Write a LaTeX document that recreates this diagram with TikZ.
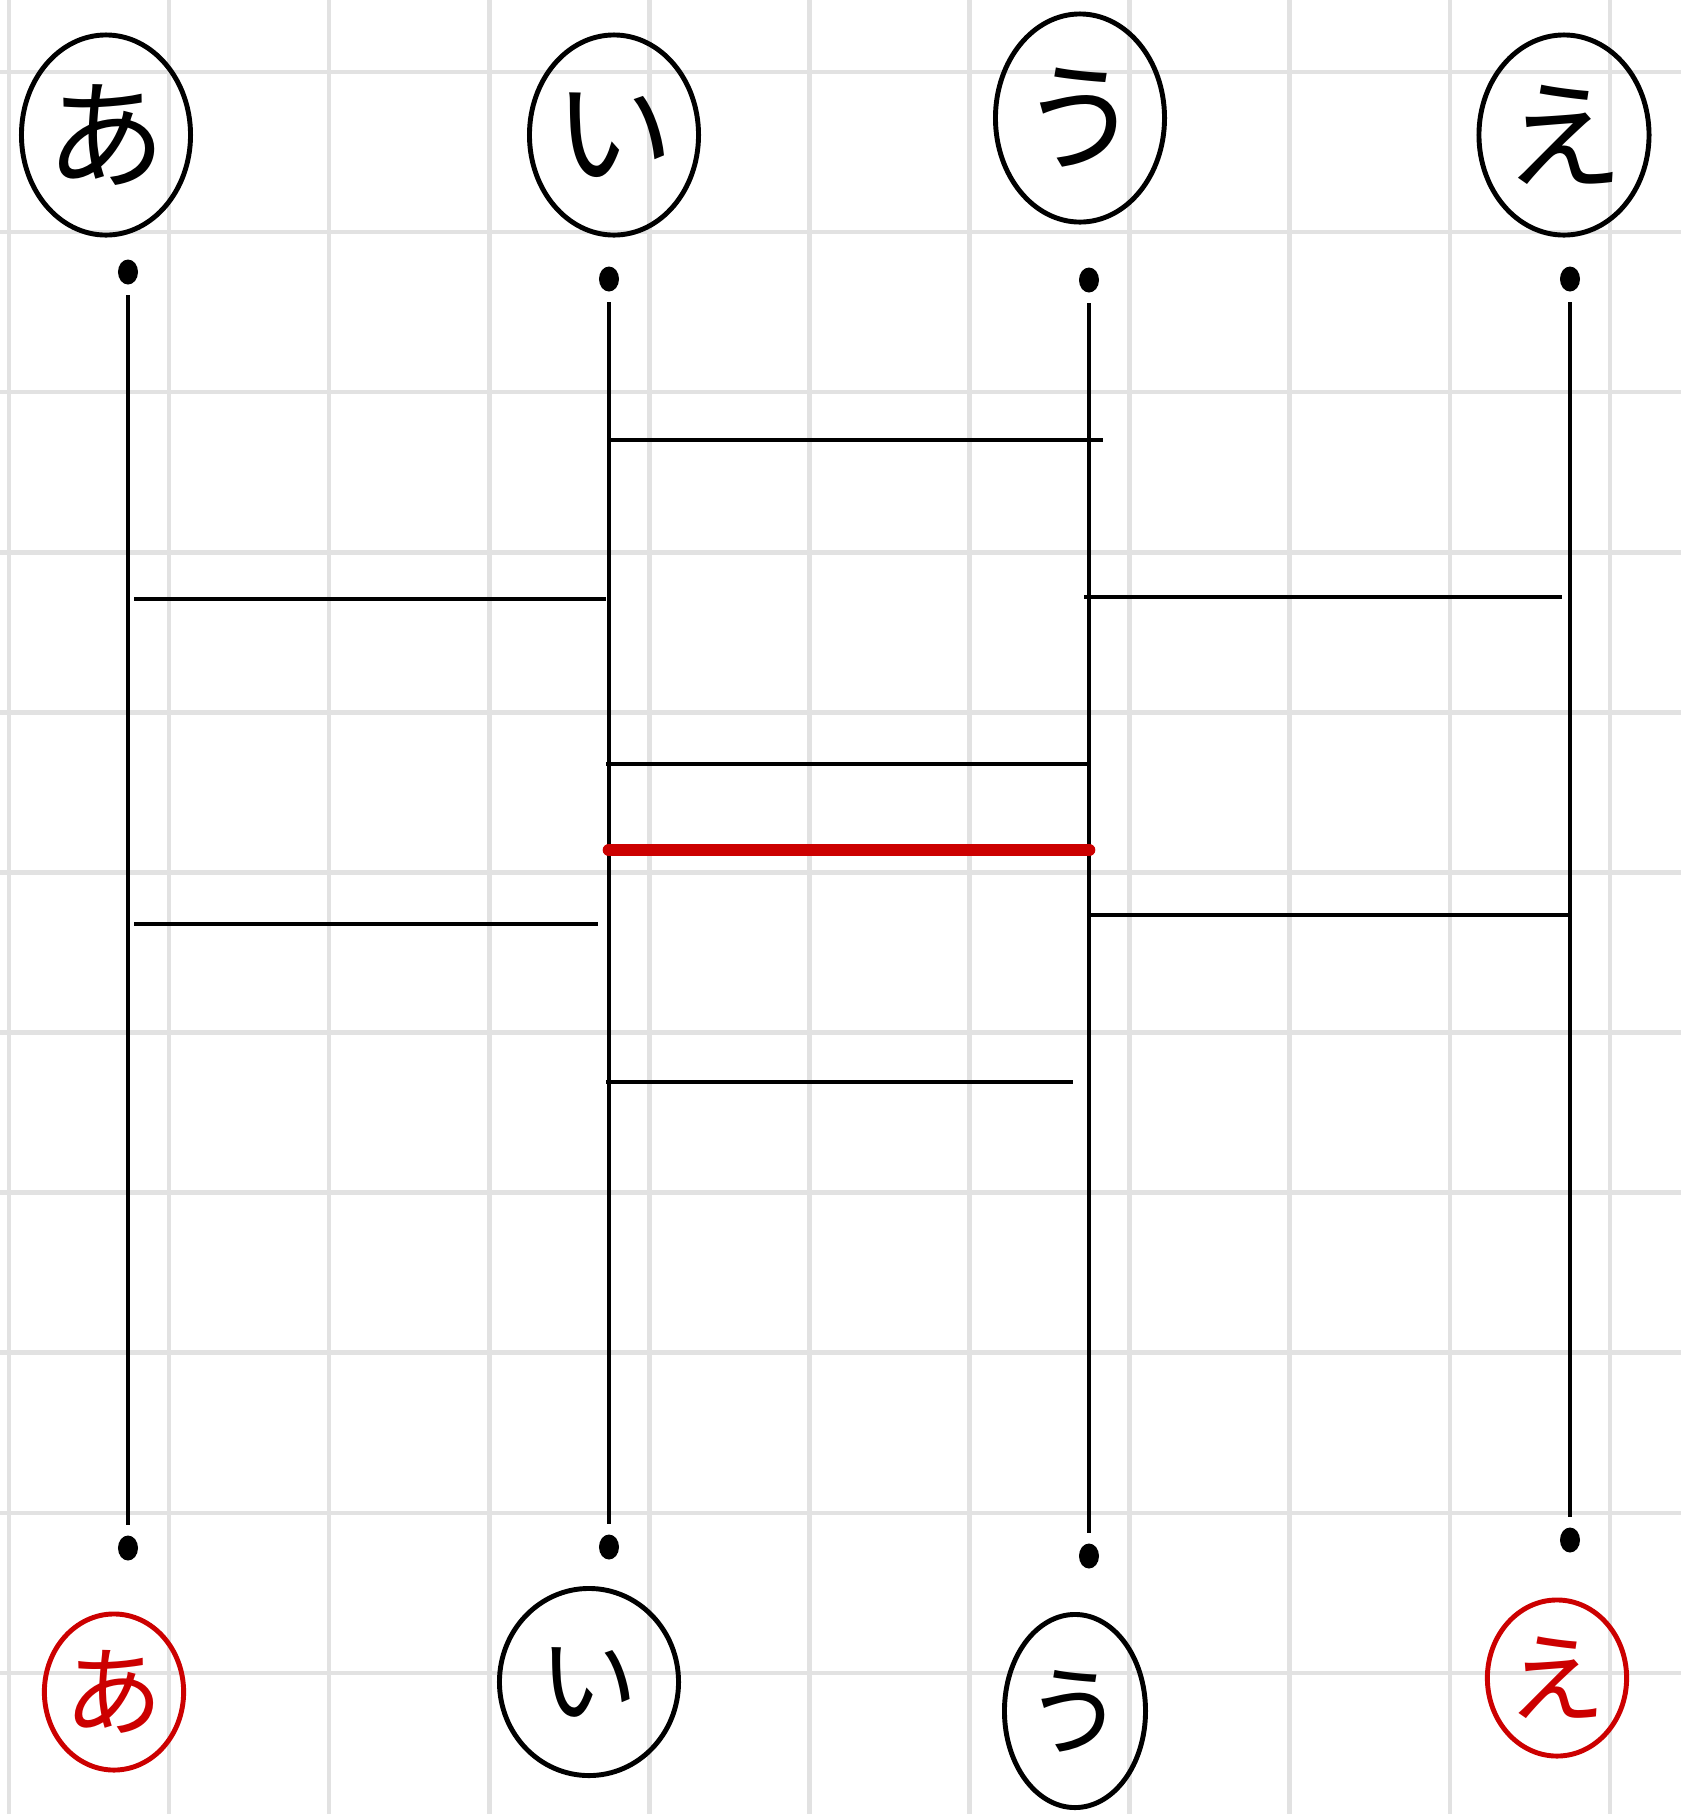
\documentclass[tikz,border=0pt]{standalone}
\usepackage{fontspec}
\newfontfamily\jpfont{Noto Sans CJK JP}
\usepackage{xcolor}
\usetikzlibrary{shapes.geometric, math}
\definecolor{myred}{RGB}{204,0,0}
\definecolor{mygrid}{RGB}{226,226,226}

\tikzset{
 rail/.style={line width=1.3pt, shorten <=0.1cm, shorten >=0.1cm},
 rung/.style={line width=1.3pt},
 dot/.style={ellipse, fill=black, inner sep=0pt, minimum width=0.2cm, minimum height=0.25cm},
 lbl/.style={ellipse, draw, line width=1.4pt, inner sep=0pt, font=\jpfont\fontsize{34}{34}\selectfont},
 lblsmall/.style={lbl, font=\jpfont\fontsize{28}{28}\selectfont}
}

\begin{document}
\begin{tikzpicture}[x=0.01cm, y=-0.01cm]
\tikzmath{
\colA=128;
\colI=609;
\colU=1089;
\colE=1570;
}
 \useasboundingbox (0,0) rectangle (1681,1814);
 \clip (0,0) rectangle (1681,1814);
 \fill[white] (0,0) rectangle (1681,1814);

 % grid paper
 \draw[mygrid, line width=1.3pt, step=1.6cm, shift={(9,72)}] (-20,-80) grid (1690,1760);

 % names at the top
 \node[lbl, minimum width=1.65cm, minimum height=2cm] (LA0) at (106,135) {あ};
 \node[lbl, minimum width=1.67cm, minimum height=2cm] (LI0) at (614,135) {い};
 \node[lbl, minimum width=1.53cm, minimum height=2.08cm] (LU0) at (1080,118) {う};
 \node[lbl, minimum width=1.7cm, minimum height=2cm] (LE0) at (1564,135) {え};

 % start and end points
 \node[dot] (A0) at (\colA,272) {};
 \node[dot] (I0) at (\colI,279) {};
 \node[dot] (U0) at (\colU,280) {};
 \node[dot] (E0) at (\colE,279) {};
 \node[dot] (A1) at (\colA,1548) {};
 \node[dot] (I1) at (\colI,1547) {};
 \node[dot] (U1) at (\colU,1556) {};
 \node[dot] (E1) at (\colE,1540) {};

 \draw[rail] (A0) -- (A1);
 \draw[rail] (I0) -- (I1);
 \draw[rail] (U0) -- (U1);
 \draw[rail] (E0) -- (E1);

 % rungs
 \coordinate (R1) at (\colI,440); \coordinate (S1) at (1103,440);
 \coordinate (R2) at (134,599);   \coordinate (S2) at (606,599);
 \coordinate (R3) at (1084,597);  \coordinate (S3) at (1562,597);
 \coordinate (R4) at (606,764);   \coordinate (S4) at (\colU,764);
 \coordinate (R5) at (\colI,850); \coordinate (S5) at (\colU,850);
 \coordinate (R6) at (134,924);   \coordinate (S6) at (598,924);
 \coordinate (R7) at (\colU,915); \coordinate (S7) at (\colE,915);
 \coordinate (R8) at (606,1082);  \coordinate (S8) at (1073,1082);

 \draw[rung] (R1) -- (S1);
 \draw[rung] (R2) -- (S2);
 \draw[rung] (R3) -- (S3);
 \draw[rung] (R4) -- (S4);
 \draw[myred, line width=3.6pt, line cap=round] (R5) -- (S5);
 \draw[rung] (R6) -- (S6);
 \draw[rung] (R7) -- (S7);
 \draw[rung] (R8) -- (S8);

 % results at the bottom
 \node[lblsmall, myred, minimum width=1.36cm, minimum height=1.56cm] (LA1) at (114,1692) {あ};
 \node[lblsmall, minimum width=1.79cm, minimum height=1.87cm] (LI1) at (589,1682) {い};
 \node[lblsmall, minimum width=1.41cm, minimum height=1.93cm] (LU1) at (1075,1711) {う};
 \node[lblsmall, myred, minimum width=1.33cm, minimum height=1.56cm] (LE1) at (1557,1678) {え};
\end{tikzpicture}
\end{document}
